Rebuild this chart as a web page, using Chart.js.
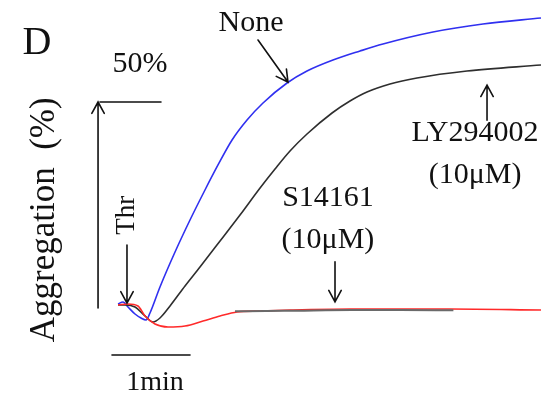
<!DOCTYPE html>
<html>
<head>
<meta charset="utf-8">
<script src="https://cdn.jsdelivr.net/npm/chart.js@4.4.1/dist/chart.umd.min.js"></script>
<style>
  html, body { margin: 0; padding: 0; background: #fff; }
  #wrap { width: 541px; height: 402px; }
</style>
</head>
<body>
<div id="wrap"><canvas id="aggChart"></canvas></div>
<script>
// aggregation traces, time in min after thrombin, aggregation in %
const noneTime = [0, 0.064, 0.128, 0.218, 0.295, 0.359, 0.41, 0.538, 0.731, 0.923, 1.115, 1.282, 1.462, 1.654, 1.859, 2.167, 2.423, 2.756, 3.103, 3.397, 4.038, 4.679, 5.423];
const noneAgg  = [0.97, 1.46, 0.24, -1.46, -2.43, -2.91, -1.21, 5.1, 13.59, 21.36, 28.64, 34.71, 40.78, 45.63, 49.76, 54.61, 57.52, 60.19, 62.38, 64.08, 66.99, 68.93, 70.39];

const lyTime = [0, 0.09, 0.218, 0.346, 0.449, 0.538, 0.667, 0.859, 1.051, 1.308, 1.564, 1.821, 2.013, 2.205, 2.423, 2.744, 2.974, 3.192, 3.487, 3.833, 4.474, 5.423];
const lyAgg  = [0.73, 0.73, 0.24, -1.94, -3.4, -2.43, 0.49, 5.34, 9.95, 16.26, 22.57, 29.13, 33.74, 38.11, 42.23, 47.33, 50.24, 52.43, 54.37, 55.83, 57.52, 58.98];

const sTime = [0, 0.128, 0.256, 0.346, 0.474, 0.641, 0.859, 1.09, 1.308, 1.526, 1.821, 2.205, 2.974, 4.256, 5.423];
const sAgg  = [0.73, 0.97, 0.49, -1.94, -3.88, -4.61, -4.37, -3.16, -1.94, -0.97, -0.73, -0.49, -0.24, -0.24, -0.49];

// grey trace mostly hidden under the red one
const greyTime = [1.5, 1.9, 2.3, 3.0, 3.6, 4.3];
const greyAgg  = [-0.8, -0.75, -0.65, -0.5, -0.5, -0.55];

const xMin = -1.513, xMax = 5.423;
const yMin = -22.82, yMax = 74.76;

function pts(t, v) { return t.map((x, i) => ({x: x, y: v[i]})); }

const serif = '"Liberation Serif", "DejaVu Serif", serif';

// labels, arrows and scale bars, placed in data units
const texts = [
  {t: 'D', x: -1.038, y: 64.1, size: 40},
  {t: 'None', x: 1.705, y: 69.2, size: 30},
  {t: '50%', x: 0.282, y: 59.2, size: 30},
  {t: '1min', x: 0.474, y: -18.2, size: 28},
  {t: 'S14161', x: 2.692, y: 26.7, size: 30},
  {t: '(10\u03bcM)', x: 2.692, y: 16.5, size: 30},
  {t: 'LY294002', x: 4.577, y: 42.5, size: 30},
  {t: '(10\u03bcM)', x: 4.577, y: 32.3, size: 30},
  {t: 'Aggregation  (%)', x: -0.936, y: 21.4, size: 35, rot: true},
  {t: 'Thr', x: 0.115, y: 22.5, size: 27, rot: true}
];
const arrows = [
  {x1: 1.795, y1: 65.05, x2: 2.179, y2: 54.85},
  {x1: 2.782, y1: 11.2, x2: 2.782, y2: 1.5},
  {x1: 4.731, y1: 45.6, x2: 4.731, y2: 54.1},
  {x1: 0.115, y1: 15.3, x2: 0.115, y2: 1.2},
  {x1: -0.256, y1: 0, x2: -0.256, y2: 50}
];
const bars = [
  {x1: -0.231, y1: 50, x2: 0.551, y2: 50},
  {x1: -0.077, y1: -11.4, x2: 0.923, y2: -11.4}
];

const notesPlugin = {
  id: 'notes',
  afterDatasetsDraw(chart) {
    const ctx = chart.ctx, xs = chart.scales.x, ys = chart.scales.y;
    ctx.save();
    ctx.strokeStyle = '#111';
    ctx.fillStyle = '#111';
    ctx.lineCap = 'round';
    ctx.lineWidth = 1.6;
    bars.forEach(b => {
      ctx.beginPath();
      ctx.moveTo(xs.getPixelForValue(b.x1), ys.getPixelForValue(b.y1));
      ctx.lineTo(xs.getPixelForValue(b.x2), ys.getPixelForValue(b.y2));
      ctx.stroke();
    });
    arrows.forEach(a => {
      const x1 = xs.getPixelForValue(a.x1), y1 = ys.getPixelForValue(a.y1);
      const x2 = xs.getPixelForValue(a.x2), y2 = ys.getPixelForValue(a.y2);
      const ang = Math.atan2(y2 - y1, x2 - x1), len = 13, spread = 0.5;
      ctx.beginPath();
      ctx.moveTo(x1, y1);
      ctx.lineTo(x2, y2);
      ctx.moveTo(x2 - len * Math.cos(ang - spread), y2 - len * Math.sin(ang - spread));
      ctx.lineTo(x2, y2);
      ctx.lineTo(x2 - len * Math.cos(ang + spread), y2 - len * Math.sin(ang + spread));
      ctx.stroke();
    });
    ctx.textAlign = 'center';
    ctx.textBaseline = 'middle';
    texts.forEach(s => {
      ctx.font = s.size + 'px ' + serif;
      const px = xs.getPixelForValue(s.x), py = ys.getPixelForValue(s.y);
      ctx.save();
      ctx.translate(px, py);
      if (s.rot) ctx.rotate(-Math.PI / 2);
      ctx.fillText(s.t, 0, 0);
      ctx.restore();
    });
    ctx.restore();
  }
};

new Chart(document.getElementById('aggChart'), {
  type: 'line',
  data: {
    datasets: [
      {label: 'S14161 grey', data: pts(greyTime, greyAgg), borderColor: '#6a6a6a', borderWidth: 2},
      {label: 'S14161 (10\u03bcM)', data: pts(sTime, sAgg), borderColor: '#ff2a2a', borderWidth: 1.6},
      {label: 'LY294002 (10\u03bcM)', data: pts(lyTime, lyAgg), borderColor: '#2e2e2e', borderWidth: 1.6},
      {label: 'None', data: pts(noneTime, noneAgg), borderColor: '#3030f0', borderWidth: 1.6}
    ]
  },
  options: {
    responsive: true,
    maintainAspectRatio: false,
    animation: false,
    layout: {padding: 0},
    elements: {
      point: {radius: 0},
      line: {cubicInterpolationMode: 'monotone', fill: false}
    },
    scales: {
      x: {type: 'linear', min: xMin, max: xMax, display: false},
      y: {type: 'linear', min: yMin, max: yMax, display: false}
    },
    plugins: {
      legend: {display: false},
      tooltip: {enabled: false}
    }
  },
  plugins: [notesPlugin]
});
</script>
</body>
</html>
